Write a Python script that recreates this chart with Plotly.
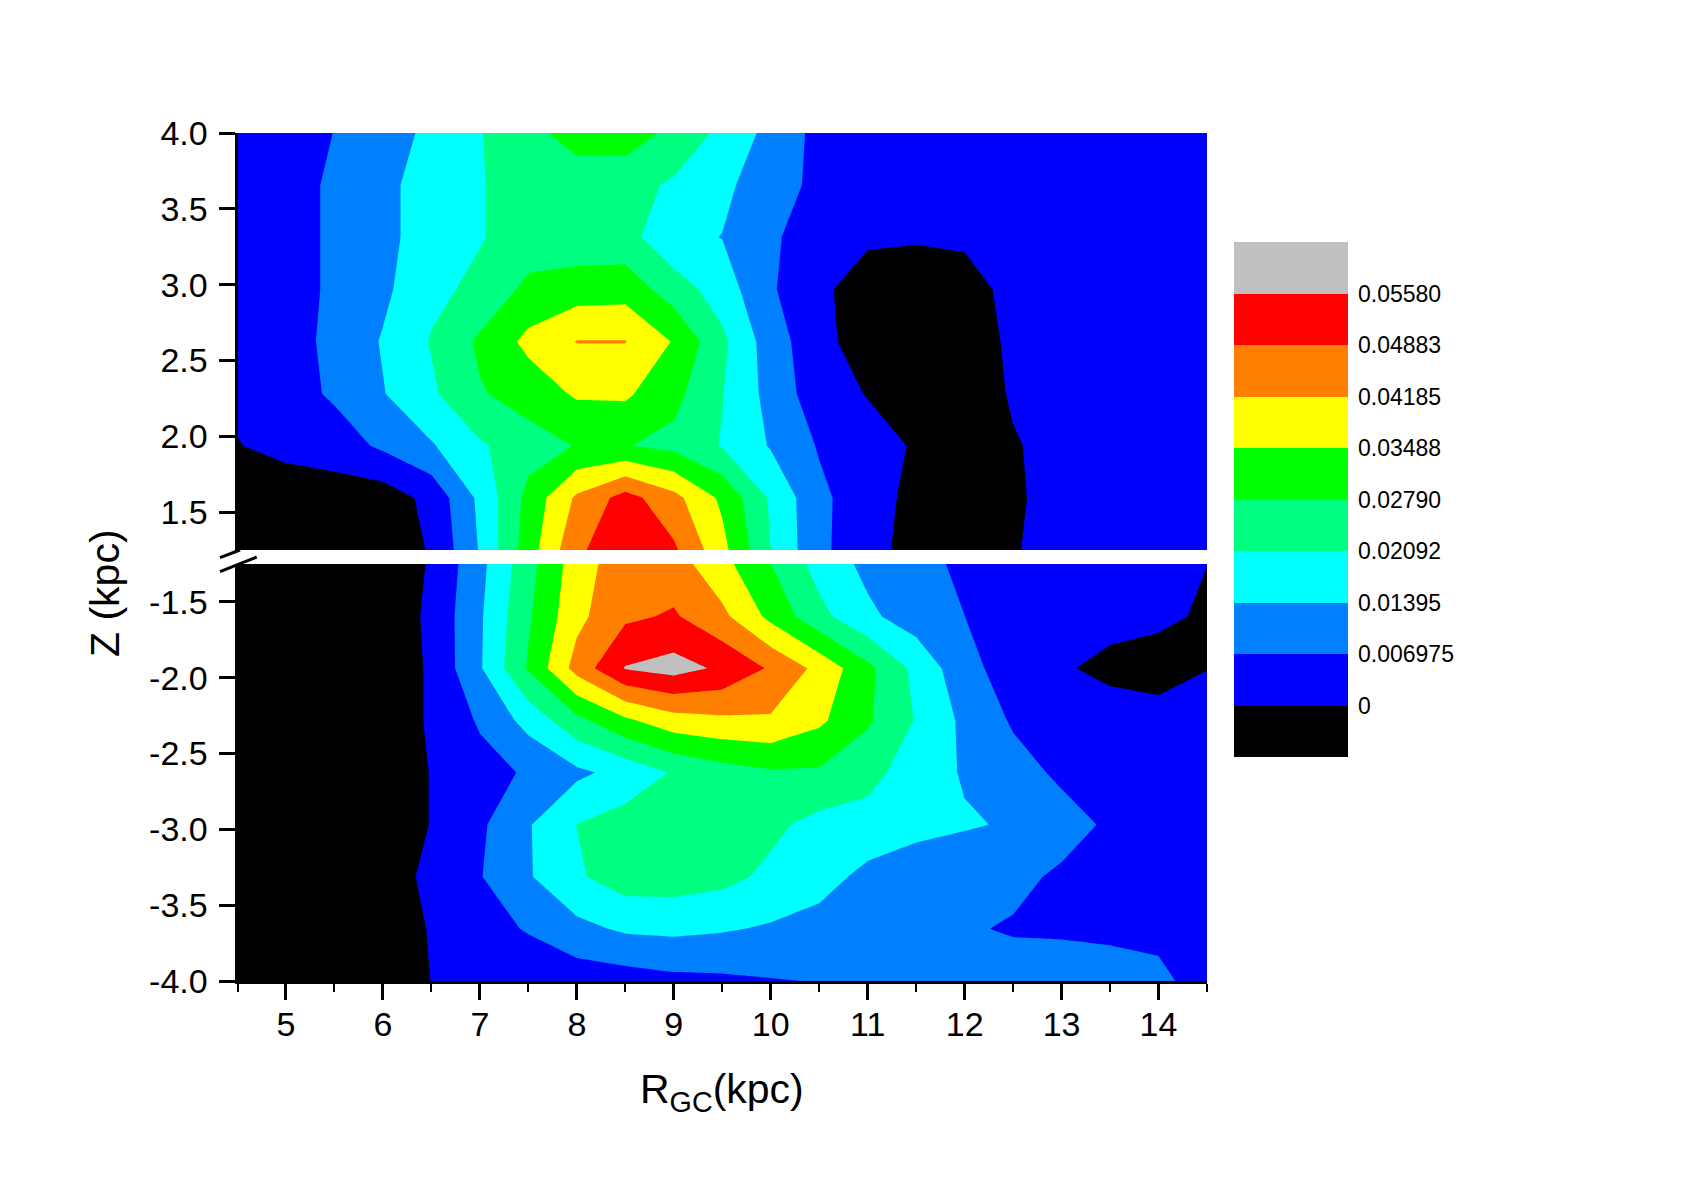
import numpy as np
import plotly.graph_objects as go

W, H = 1695, 1180

r_gc = [4.5, 5, 5.5, 6, 6.5, 7, 7.5, 8, 8.5, 9, 9.5, 10, 10.5, 11, 11.5, 12, 12.5, 13, 13.5, 14, 14.5]

z_upper = [1.25, 1.594, 1.9375, 2.281, 2.625, 2.969, 3.3125, 3.656, 4.0]
density_upper = [  # in units of 1e-3, bottom row first
    [-3, -3, -3.5, -3.5, .5, 14.5, 31.5, 47.5, 54, 50, 37, 21, 8.3, 3, -3.2, -5, -.4, 2, 2, 2, 1.5],
    [-2, -3, -3.5, -3.7, 2, 15.5, 30, 43, 51.5, 44, 33.5, 20, 8.5, 3, -2, -4, -1, 2.5, 2, 2, 1.5],
    [-.2, 1.5, 3.5, 8.2, 13.3, 20, 25, 28.2, 28.2, 26, 20.5, 13.4, 6.4, 2.5, -.6, -3, -.5, 2, 2, 2, 2],
    [1, 4, 8, 13.6, 19.8, 27.3, 30.8, 35.8, 36, 30, 21.2, 11.6, 3, -.3, -5, -4, .7, 1.8, 2, 2, 2],
    [1.5, 4.5, 8.5, 14.5, 21.4, 29.1, 36.7, 42.08, 42.08, 34.4, 22.5, 10.3, 2.4, -3.9, -5, -4, 1.4, 1.8, 2, 2, 2],
    [1.5, 4.5, 8, 12.5, 19.3, 22.5, 29.7, 31.5, 32, 24.5, 17.5, 7.8, 1.3, -3, -3, -1.5, 1.1, 1.5, 2, 2, 2],
    [1.5, 4.5, 8, 12.5, 16.5, 20.5, 24, 23.5, 23.5, 15.7, 13.8, 8, 3.5, 1, .5, .6, 1, 1.5, 2, 2, 2],
    [1.5, 4.5, 8, 12.5, 16.5, 20.5, 24, 24, 23.5, 19.9, 15.5, 10, 5.3, 3, 2.5, 2.5, 2, 2, 2, 2, 2],
    [1, 3.5, 7.1, 11, 15.4, 20.6, 25.7, 31, 31.5, 26.1, 19.2, 11.8, 5, 3, 2.5, 2.5, 2, 2, 2, 2, 2],
]

z_lower = [-4.0, -3.656, -3.3125, -2.969, -2.625, -2.281, -1.9375, -1.594, -1.25]
density_lower = [  # in units of 1e-3, bottom row first
    [-3, -3, -3, -5, .1, 1, 2.5, 3, 3.7, 5.2, 5.7, 6.6, 7.2, 8, 8.5, 9, 10, 10, 10.2, 8.8, 3.5],
    [-3, -3, -3, -5, .6, 4.5, 7.5, 12, 15, 15.5, 14.6, 13.2, 11.5, 10, 9, 7.6, 6.4, 6.2, 5.5, 5, 2.5],
    [-3, -3, -3, -5, 2.4, 6.6, 13.3, 20, 24.5, 24.5, 23, 19.4, 16.5, 12.2, 11, 10, 8.5, 6, 4, 3, 2.5],
    [-3, -3, -3, -5, .3, 5.8, 13.4, 21, 24, 25, 25, 22.5, 18.7, 18, 15.5, 14.5, 13.4, 9.5, 6, 4, 3],
    [-3, -3, -3, -5, .3, 4.5, 7.8, 12.5, 16.3, 21.6, 25, 27, 27, 23.5, 17, 13.4, 9.5, 5.8, 4, 3, 2.5],
    [-3, -3, -3, -5, 1, 7.8, 16.4, 26, 33.7, 39, 40.5, 41, 36.2, 28.8, 20.5, 12.4, 6.2, 3.5, 3, 3, 2],
    [-3, -3, -3, -5, 1, 13.2, 28.6, 44.5, 56.2, 58.5, 54.6, 48, 39.9, 29.7, 19, 9.4, 3.5, .7, -1.6, -3.2, -.1],
    [-3, -3, -3, -5, 1.5, 13, 27, 40, 47.5, 49.6, 43.5, 33, 23, 15.3, 10.6, 7, 4, 2.5, 2, 1.5, -1],
    [-3, -3, -3, -5, .7, 12, 25.5, 38.5, 46, 45, 37, 28, 18.3, 12.2, 9, 5.7, 3, 2.5, 2, 1.5, .05],
]

level_labels = ["0", "0.006975", "0.01395", "0.02092", "0.02790", "0.03488", "0.04185", "0.04883", "0.05580"]
band_colors = ["#000000", "#0000FF", "#0080FF", "#00FFFF", "#00FF80", "#00FF00", "#FFFF00", "#FF8000", "#FF0000", "#C0C0C0"]

upper_ticks = [1.5, 2.0, 2.5, 3.0, 3.5, 4.0]
upper_tick_text = ["1.5", "2.0", "2.5", "3.0", "3.5", "4.0"]
lower_ticks = [-4.0, -3.5, -3.0, -2.5, -2.0, -1.5]
lower_tick_text = ["-4.0", "-3.5", "-3.0", "-2.5", "-2.0", "-1.5"]

FONT = "Liberation Sans"
n_bands = len(band_colors)
colorscale = [[i / (n_bands - 1), c] for i, c in enumerate(band_colors)]
contours = dict(start=0, end=0.0558, size=0.006975, coloring="fill", showlines=False)
legend_scale = []
for i, c in enumerate(band_colors):
    legend_scale += [[i / n_bands, c], [(i + 1) / n_bands, c]]


def px(x):
    return x / W


def py(y):
    return 1 - y / H


fig = go.Figure()
fig.add_trace(go.Contour(
    x=r_gc, y=z_upper, z=np.array(density_upper) * 1e-3, xaxis="x2", yaxis="y2",
    contours=contours, colorscale=colorscale, line=dict(width=0, smoothing=0), showscale=False,
    hoverinfo="skip",
))
fig.add_trace(go.Contour(
    x=r_gc, y=z_lower, z=np.array(density_lower) * 1e-3, xaxis="x", yaxis="y",
    contours=contours, colorscale=colorscale, line=dict(width=0, smoothing=0), showscale=False,
    hoverinfo="skip",
))
# colour key: one cell per band, with the level labels on the boundaries between bands
fig.add_trace(go.Heatmap(
    x=[0], y=[i + 0.5 for i in range(n_bands)], z=[[i] for i in range(n_bands)],
    xaxis="x3", yaxis="y3", colorscale=legend_scale, zmin=-0.5, zmax=n_bands - 0.5,
    showscale=False, hoverinfo="skip",
))

axis_line = dict(showline=True, linecolor="black", linewidth=3, ticks="outside",
                 tickcolor="black", tickwidth=3, ticklen=16, showgrid=False, zeroline=False,
                 tickfont=dict(family=FONT, size=34, color="black"))
x_dom = [px(237.5), px(1207)]
fig.update_layout(
    width=W, height=H, margin=dict(l=0, r=0, t=0, b=0, autoexpand=False),
    paper_bgcolor="white", plot_bgcolor="white", showlegend=False,
    xaxis=dict(domain=x_dom, range=[4.5, 14.5], tick0=5, dtick=1,
               minor=dict(dtick=0.5, tick0=4.5, ticks="outside", ticklen=8, tickwidth=2, tickcolor="black"),
               ticklabelstandoff=-5, anchor="y", **axis_line),
    xaxis2=dict(domain=x_dom, range=[4.5, 14.5], visible=False, anchor="y2"),
    xaxis3=dict(domain=[px(1234), px(1348)], visible=False, anchor="y3", range=[-0.5, 0.5]),
    yaxis=dict(domain=[py(981), py(564)], range=[-4, -1.25], tickmode="array",
               tickvals=lower_ticks, ticktext=lower_tick_text, ticklabelstandoff=4,
               anchor="x", **axis_line),
    yaxis2=dict(domain=[py(550), py(133)], range=[1.25, 4.0], tickmode="array",
                tickvals=upper_ticks, ticktext=upper_tick_text, ticklabelstandoff=4,
                anchor="x2", **axis_line),
    yaxis3=dict(domain=[py(757), py(242)], range=[0, n_bands], side="right", anchor="x3",
                tickmode="array", tickvals=list(range(1, n_bands)), ticktext=level_labels,
                tickfont=dict(family=FONT, size=23, color="black"), ticklabelstandoff=9,
                showgrid=False, zeroline=False, showline=False, ticks=""),
    annotations=[
        dict(text="Z (kpc)", x=px(105), y=py(593), xref="paper", yref="paper", textangle=-90,
             xshift=-25, showarrow=False, font=dict(family=FONT, size=41, color="black")),
        dict(text="R<sub>GC</sub>(kpc)", x=px(722), y=py(1120), xref="paper", yref="paper",
             showarrow=False, font=dict(family=FONT, size=41, color="black")),
    ],
    shapes=[
        dict(type="line", xref="paper", yref="paper", x0=px(220), y0=py(557.7), x1=px(240), y1=py(550),
             line=dict(color="black", width=3)),
        dict(type="line", xref="paper", yref="paper", x0=px(220), y0=py(571.7), x1=px(256.7), y1=py(557),
             line=dict(color="black", width=3)),
    ],
)

fig.write_html("out.html", config=dict(displayModeBar=False),
               post_script="document.body.style.margin='0';document.body.style.overflow='hidden';")
